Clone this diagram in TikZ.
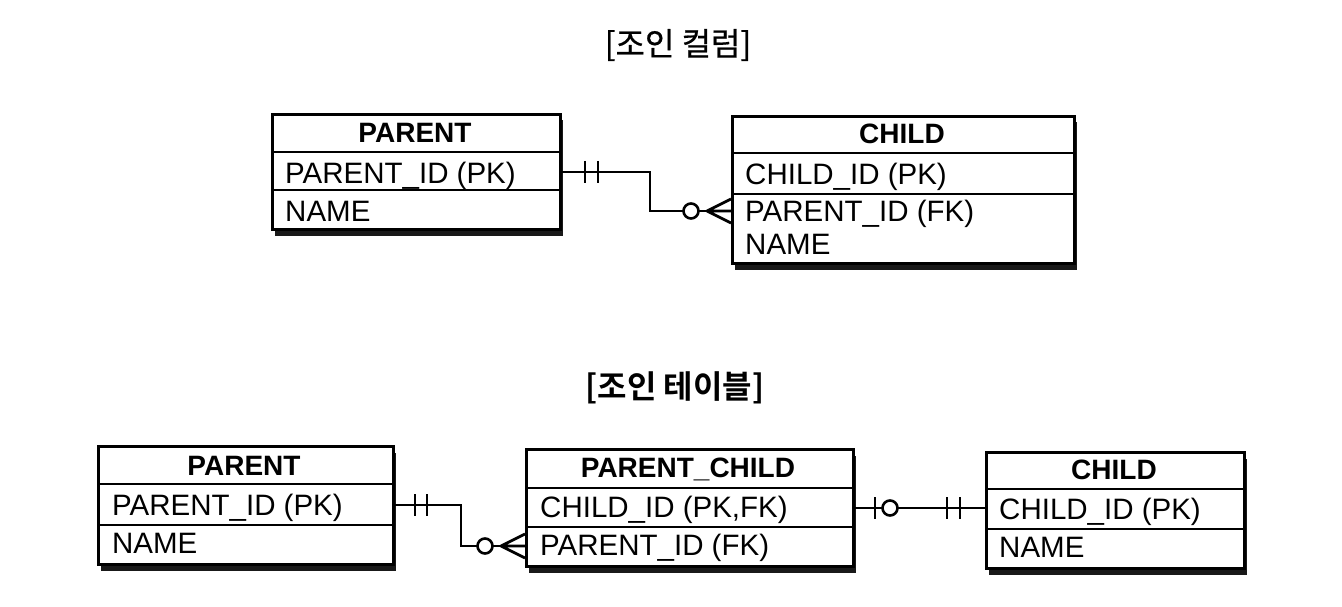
\documentclass[tikz,border=0pt]{standalone}
\usepackage{fontspec}
\setmainfont{Liberation Sans}
\newfontfamily\krfont{Noto Sans CJK KR}[FakeBold=0.6]
\newfontfamily\krbold{Noto Sans CJK KR Bold}
\usetikzlibrary{shadows}
\begin{document}
\begin{tikzpicture}[x=1pt,y=-1pt,
  ent/.style={draw, line width=3pt, fill=white, inner sep=0pt, anchor=north west,
    drop shadow={shadow xshift=2.5pt, shadow yshift=-6pt, fill=black, opacity=.9}},
  sep/.style={line width=2.6pt},
  hdr/.style={font=\bfseries\fontsize{28}{30}\selectfont, inner sep=0pt, anchor=base},
  fld/.style={font=\fontsize{29.5}{32}\selectfont, anchor=base west, inner sep=0pt},
  link/.style={line width=2.8pt},
  bar/.style={line width=2.8pt},
  ring/.style={circle, draw, line width=2.6pt, fill=white, minimum size=15pt, inner sep=0pt},
  ttl/.style={inner sep=0pt}
]
\useasboundingbox (0,0) rectangle (1342,607);

% ---------- join column ----------
\node[ttl, font=\krfont\fontsize{32}{34}\selectfont] (t1) at (678,45) {[조인 컬럼]};

% PARENT entity
\node[ent, minimum width=288pt, minimum height=115pt] (tp) at (271,113) {};
\draw[sep] (271,152) -- (559,152);
\draw[sep] (271,190) -- (559,190);
\node[hdr] (tph) at (415,143) {PARENT};
\node[fld] (tpk) at (285,183) {PARENT\_ID (PK)};
\node[fld] (tpn) at (285,221) {NAME};

% CHILD entity
\node[ent, minimum width=342pt, minimum height=147pt] (tc) at (731,115) {};
\draw[sep] (731,153) -- (1073,153);
\draw[sep] (731,194) -- (1073,194);
\node[hdr] (tch) at (902,144) {CHILD};
\node[fld] (tck) at (745,185) {CHILD\_ID (PK)};
\node[fld] (tfk) at (745,221) {PARENT\_ID (FK)};
\node[fld] (tcn) at (745,254) {NAME};

% relationship: one-and-only-one to zero-or-many
\draw[link] (tp.east |- 0,172) -- ++(88,0) |- (tc.west |- 0,211);
\draw[bar] (585,161) -- (585,183);
\draw[bar] (598,161) -- (598,183);
\draw[link] (707,211) -- (731,199) (707,211) -- (731,211) (707,211) -- (731,223);
\node[ring] (tr) at (691,211) {};

% ---------- join table ----------
\node[ttl, font=\krbold\fontsize{32}{34}\selectfont] (t2) at (675,388) {[조인 테이블]};

% PARENT entity
\node[ent, minimum width=295pt, minimum height=118pt] (bp) at (97,445) {};
\draw[sep] (97,484) -- (392,484);
\draw[sep] (97,525) -- (392,525);
\node[hdr] (bph) at (244,475) {PARENT};
\node[fld] (bpk) at (112,515) {PARENT\_ID (PK)};
\node[fld] (bpn) at (112,553) {NAME};

% PARENT_CHILD entity
\node[ent, minimum width=327pt, minimum height=117pt] (bpc) at (525,448) {};
\draw[sep] (525,488) -- (852,488);
\draw[sep] (525,527) -- (852,527);
\node[hdr] (bpch) at (688,477) {PARENT\_CHILD};
\node[fld] (bck) at (540,517) {CHILD\_ID (PK,FK)};
\node[fld] (bfk) at (540,555) {PARENT\_ID (FK)};

% CHILD entity
\node[ent, minimum width=258pt, minimum height=116pt] (bc) at (985,451) {};
\draw[sep] (985,489) -- (1243,489);
\draw[sep] (985,529) -- (1243,529);
\node[hdr] (bch) at (1114,479) {CHILD};
\node[fld] (bcid) at (999,519) {CHILD\_ID (PK)};
\node[fld] (bcn) at (999,557) {NAME};

% PARENT to PARENT_CHILD
\draw[link] (bp.east |- 0,505) -- ++(66,0) |- (bpc.west |- 0,546);
\draw[bar] (415,494) -- (415,516);
\draw[bar] (427,494) -- (427,516);
\draw[link] (501,546) -- (525,534) (501,546) -- (525,546) (501,546) -- (525,558);
\node[ring] (br1) at (485,546) {};

% PARENT_CHILD to CHILD
\draw[link] (bpc.east |- 0,508) -- (bc.west |- 0,508);
\draw[bar] (875,497) -- (875,519);
\node[ring] (br2) at (890,508) {};
\draw[bar] (947,497) -- (947,519);
\draw[bar] (960,497) -- (960,519);
\end{tikzpicture}
\end{document}
